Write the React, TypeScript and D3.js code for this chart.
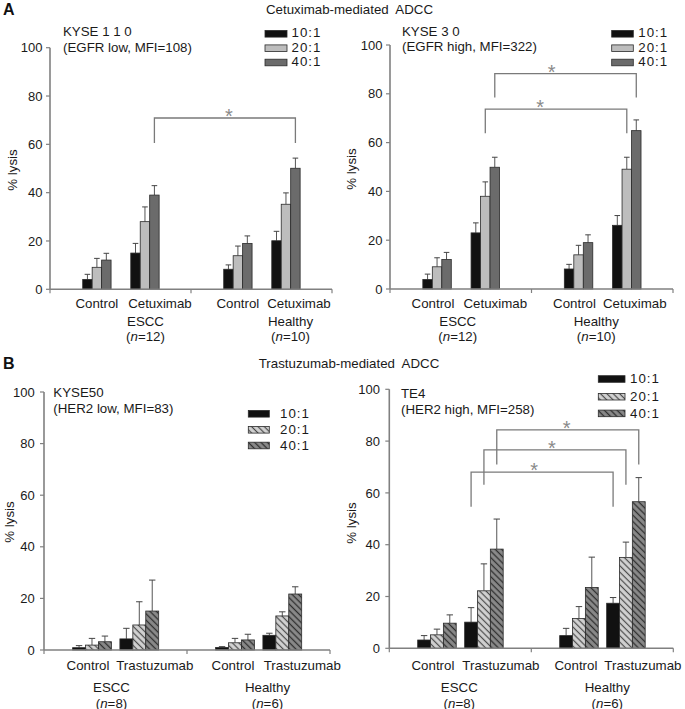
import React from "react";
import * as d3 from "d3";

const categories = ["ESCC", "Healthy"];
const ratios = ["10:1", "20:1", "40:1"];
const yTicks = [0, 20, 40, 60, 80, 100];
const cetuxGroups = ["Control", "Cetuximab"];
const trastGroups = ["Control", "Trastuzumab"];
const cetuxN = [12, 10];
const trastN = [8, 6];

// order: ESCC-Control, ESCC-Treatment, Healthy-Control, Healthy-Treatment ; values per ratio
const kyse110Mean = [[4.1, 9.1, 12.1], [15, 28, 39], [8.3, 13.9, 19], [20.1, 35.2, 50.1]];
const kyse110Err = [[2.1, 3.7, 2.8], [4, 6.1, 3.9], [1.8, 4, 3.1], [3.9, 4.7, 4.2]];
const kyse30Mean = [[3.9, 9.1, 12.1], [23, 38, 49.9], [8.2, 14, 19], [26.1, 49.1, 64.9]];
const kyse30Err = [[2.2, 3.7, 2.9], [4.1, 5.9, 4.1], [1.9, 3.9, 3.2], [4, 4.9, 4.4]];
const kyse50Mean = [[0.9, 1.9, 3.2], [4.3, 9.7, 15.1], [1.0, 2.8, 3.9], [5.7, 13.2, 21.7]];
const kyse50Err = [[0.8, 2.6, 2.2], [4.1, 9, 12], [0.3, 1.7, 2.2], [0.8, 1.6, 2.8]];
const te4Mean = [[3.2, 5.2, 9.7], [10.1, 22.2, 38.3], [4.9, 11.5, 23.5], [17.4, 35.1, 56.6]];
const te4Err = [[1.7, 2.2, 3.2], [5.6, 10.4, 11.6], [2.8, 4.6, 11.7], [2.2, 5.9, 9.3]];

// brackets: from [category, group, ratio] to [category, group, ratio], level value, leg bottom value
const kyse110Brackets = [{ from: [0, 1, 2], to: [1, 1, 2], level: 70.9, leg: 60.6, dx: 4 }];
const kyse30Brackets = [
  { from: [0, 1, 2], to: [1, 1, 2], level: 88.3, leg: 78.5, dx: -14 },
  { from: [0, 1, 1], to: [1, 1, 1], level: 73.7, leg: 63.8, dx: -16 },
];
const kyse50Brackets: any[] = [];
const te4Brackets = [
  { from: [0, 1, 2], to: [1, 1, 2], level: 84.3, leg: 71.0, dx: -1 },
  { from: [0, 1, 1], to: [1, 1, 1], level: 76.6, leg: 63.1, dx: -3 },
  { from: [0, 1, 0], to: [1, 1, 0], level: 68.0, leg: 54.7, dx: -8 },
];

const FONT = "'Liberation Sans', Arial, Helvetica, sans-serif";
const TXT = "#1a1a1a";

const solidFill = ["#111111", "#bdbdbd", "#6b6b6b"];
const hatchFill = ["#111111", "url(#hatch20)", "url(#hatch40)"];

function Panel({ cfg }: { cfg: any }) {
  const x0 = d3.scaleBand().domain(categories).range(cfg.xRange).padding(0);
  const bw = x0.bandwidth();
  const x1 = d3
    .scaleBand()
    .domain(cfg.groups)
    .range([cfg.groupFrac[0] * bw, cfg.groupFrac[1] * bw])
    .paddingInner(cfg.groupPad)
    .paddingOuter(0);
  const x2 = d3.scaleBand().domain(ratios).range([0, x1.bandwidth()]);
  const y = d3.scaleLinear().domain([0, 100]).range(cfg.yRange);
  const fills = cfg.hatched ? hatchFill : solidFill;
  const barX = (ci: number, gi: number, ri: number) =>
    (x0(categories[ci]) as number) + (x1(cfg.groups[gi]) as number) + (x2(ratios[ri]) as number);
  const bwBar = x2.bandwidth();
  const [xl, xr] = cfg.xRange;
  const y0 = y(0);
  const axisColor = "#808080";

  const bars: any[] = [];
  categories.forEach((c, ci) => {
    cfg.groups.forEach((g: string, gi: number) => {
      ratios.forEach((r, ri) => {
        const v = cfg.mean[ci * 2 + gi][ri];
        const e = cfg.err[ci * 2 + gi][ri];
        const bx = barX(ci, gi, ri);
        const cx = bx + bwBar / 2;
        bars.push(
          <g key={`${ci}-${gi}-${ri}`}>
            <line x1={cx} x2={cx} y1={y(v)} y2={y(v + e)} stroke="#555" strokeWidth={1} />
            <line x1={cx - cfg.capHalf} x2={cx + cfg.capHalf} y1={y(v + e)} y2={y(v + e)} stroke="#444" strokeWidth={1} />
            <rect x={bx} y={y(v)} width={bwBar} height={y0 - y(v)} fill={fills[ri]} stroke="#2a2a2a" strokeWidth={0.8} />
          </g>
        );
      });
    });
  });

  return (
    <g fontFamily={FONT}>
      <text x={cfg.titleX} y={cfg.titleY[0]} fontSize={13.3} fill={TXT}>{cfg.title1}</text>
      <text x={cfg.titleX} y={cfg.titleY[1]} fontSize={13.3} fill={TXT}>{cfg.title2}</text>
      <line x1={xl} x2={xl} y1={y(0)} y2={y(100)} stroke={axisColor} strokeWidth={1.6} />
      {yTicks.map((t) => (
        <g key={t}>
          <line x1={xl - 4} x2={xl} y1={y(t)} y2={y(t)} stroke={axisColor} strokeWidth={1.2} />
          <text x={xl - cfg.tickGap} y={y(t)} dy="0.36em" textAnchor="end" fontSize={13} fill={TXT}>{t}</text>
        </g>
      ))}
      <text
        transform={`translate(${cfg.yLabel[0]},${cfg.yLabel[1]}) rotate(-90)`}
        textAnchor="middle"
        fontSize={13.3}
        fill={TXT}
      >% lysis</text>
      {bars}
      <line x1={xl} x2={xr} y1={y0} y2={y0} stroke={axisColor} strokeWidth={1.6} />
      {[xl, (x0(categories[1]) as number), xr].map((tx, i) => (
        <line key={i} x1={tx} x2={tx} y1={y0} y2={y0 + 4} stroke={axisColor} strokeWidth={1.2} />
      ))}
      {categories.map((c, ci) => (
        <g key={c}>
          {cfg.groups.map((g: string, gi: number) => (
            <text
              key={g}
              x={(x0(c) as number) + (x1(g) as number) + x1.bandwidth() / 2 + cfg.groupDx[ci][gi]}
              y={cfg.labelY[0]}
              textAnchor="middle"
              fontSize={13.3}
              fill={TXT}
            >{g}</text>
          ))}
          <text x={(x0(c) as number) + bw / 2 + cfg.catDx[ci]} y={cfg.labelY[1]} textAnchor="middle" fontSize={13.3} fill={TXT}>{c}</text>
          <text x={(x0(c) as number) + bw / 2 + cfg.catDx[ci]} y={cfg.labelY[2]} textAnchor="middle" fontSize={13.3} fill={TXT}>
            (<tspan fontStyle="italic">n</tspan>={cfg.nValues[ci]})
          </text>
        </g>
      ))}
      {cfg.brackets.map((b: any, i: number) => {
        const xa = barX(b.from[0], b.from[1], b.from[2]) + bwBar / 2;
        const xb = barX(b.to[0], b.to[1], b.to[2]) + bwBar / 2;
        const yl = y(b.level);
        const yg = y(b.leg);
        return (
          <g key={i}>
            <path d={`M${xa},${yg}V${yl}H${xb}V${yg}`} fill="none" stroke="#7a7a7a" strokeWidth={1.3} />
            <text x={(xa + xb) / 2 + b.dx} y={yl + 5} textAnchor="middle" fontSize={20} fill="#8a8a8a">*</text>
          </g>
        );
      })}
      {ratios.map((r, ri) => (
        <g key={r}>
          <rect
            x={cfg.legendX}
            y={cfg.legendY[ri] - cfg.legendBoxOff}
            width={cfg.legendW}
            height={6.6}
            fill={fills[ri]}
            stroke="#2a2a2a"
            strokeWidth={0.8}
          />
          <text x={cfg.legendTextX} y={cfg.legendY[ri]} fontSize={13.3} letterSpacing={1} fill={TXT}>{r}</text>
        </g>
      ))}
    </g>
  );
}

const panels = [
  {
    title1: "KYSE 1 1 0", title2: "(EGFR low, MFI=108)", titleX: 63, titleY: [35.5, 51.5],
    xRange: [50, 332], yRange: [289.3, 47.7], groups: cetuxGroups, mean: kyse110Mean, err: kyse110Err,
    brackets: kyse110Brackets, nValues: cetuxN, groupFrac: [0.232, 0.774], groupPad: 0.41, hatched: false,
    legendX: 265, legendW: 22, legendTextX: 291.5, legendY: [37.3, 51.7, 66], legendBoxOff: 6.8,
    tickGap: 7.5, yLabel: [17, 170], groupDx: [[0, 15], [0, 13]], catDx: [25, 29], labelY: [308, 326, 341], capHalf: 2.8,
  },
  {
    title1: "KYSE 3 0", title2: "(EGFR high, MFI=322)", titleX: 402, titleY: [35.5, 50.5],
    xRange: [390, 673], yRange: [289, 45], groups: cetuxGroups, mean: kyse30Mean, err: kyse30Err,
    brackets: kyse30Brackets, nValues: cetuxN, groupFrac: [0.232, 0.774], groupPad: 0.41, hatched: false,
    legendX: 611.7, legendW: 21.6, legendTextX: 638.3, legendY: [37.3, 51.7, 66], legendBoxOff: 6.8,
    tickGap: 7.5, yLabel: [356, 169], groupDx: [[-4, 10], [-4, 8]], catDx: [-3, -6], labelY: [308.3, 326, 341], capHalf: 2.8,
  },
  {
    title1: "KYSE50", title2: "(HER2 low, MFI=83)", titleX: 53.3, titleY: [396.7, 412.5],
    xRange: [44, 330], yRange: [650, 392], groups: trastGroups, mean: kyse50Mean, err: kyse50Err,
    brackets: kyse50Brackets, nValues: trastN, groupFrac: [0.2, 0.802], groupPad: 0.18, hatched: true,
    legendX: 248.3, legendW: 21, legendTextX: 280, legendY: [418.3, 434.3, 450], legendBoxOff: 7.8,
    tickGap: 9.3, yLabel: [13.5, 522], groupDx: [[-4, 15.5], [-2, 20]], catDx: [-4, 9], labelY: [670, 692, 707.5], capHalf: 3.2,
  },
  {
    title1: "TE4", title2: "(HER2 high, MFI=258)", titleX: 401, titleY: [397.7, 414],
    xRange: [389.3, 673.3], yRange: [648.3, 389.3], groups: trastGroups, mean: te4Mean, err: te4Err,
    brackets: te4Brackets, nValues: trastN, groupFrac: [0.2, 0.802], groupPad: 0.18, hatched: true,
    legendX: 598.3, legendW: 26.7, legendTextX: 630, legendY: [383.3, 401, 417.7], legendBoxOff: 7.6,
    tickGap: 9.3, yLabel: [355.5, 523], groupDx: [[-4, 17], [-3, 17]], catDx: [-1, 5], labelY: [670, 692, 707.5], capHalf: 3.2,
  },
];

export default function App() {
  return (
    <svg
      width={685}
      height={709}
      viewBox="0 0 685 709"
      style={{ position: "absolute", left: 0, top: 0, background: "#fff" }}
    >
      <defs>
        <pattern id="hatch20" patternUnits="userSpaceOnUse" width={4.5} height={4.5} patternTransform="rotate(-45)">
          <rect width={4.5} height={4.5} fill="#d2d2d2" />
          <line x1={2.25} x2={2.25} y1={0} y2={4.5} stroke="#4a4a4a" strokeWidth={1.2} />
        </pattern>
        <pattern id="hatch40" patternUnits="userSpaceOnUse" width={4.5} height={4.5} patternTransform="rotate(-45)">
          <rect width={4.5} height={4.5} fill="#8a8a8a" />
          <line x1={2.25} x2={2.25} y1={0} y2={4.5} stroke="#2e2e2e" strokeWidth={1.3} />
        </pattern>
      </defs>
      <rect width={685} height={709} fill="#fff" />
      <g fontFamily={FONT}>
        <text x={3} y={15} fontSize={16} fontWeight="bold" fill="#111">A</text>
        <text x={349.5} y={13.5} textAnchor="middle" fontSize={13.3} fill={TXT} xmlSpace="preserve">Cetuximab-mediated  ADCC</text>
        <text x={3} y={368.5} fontSize={16} fontWeight="bold" fill="#111">B</text>
        <text x={349} y={368} textAnchor="middle" fontSize={13.3} fill={TXT} xmlSpace="preserve">Trastuzumab-mediated  ADCC</text>
      </g>
      {panels.map((p, i) => (
        <Panel key={i} cfg={p} />
      ))}
    </svg>
  );
}
